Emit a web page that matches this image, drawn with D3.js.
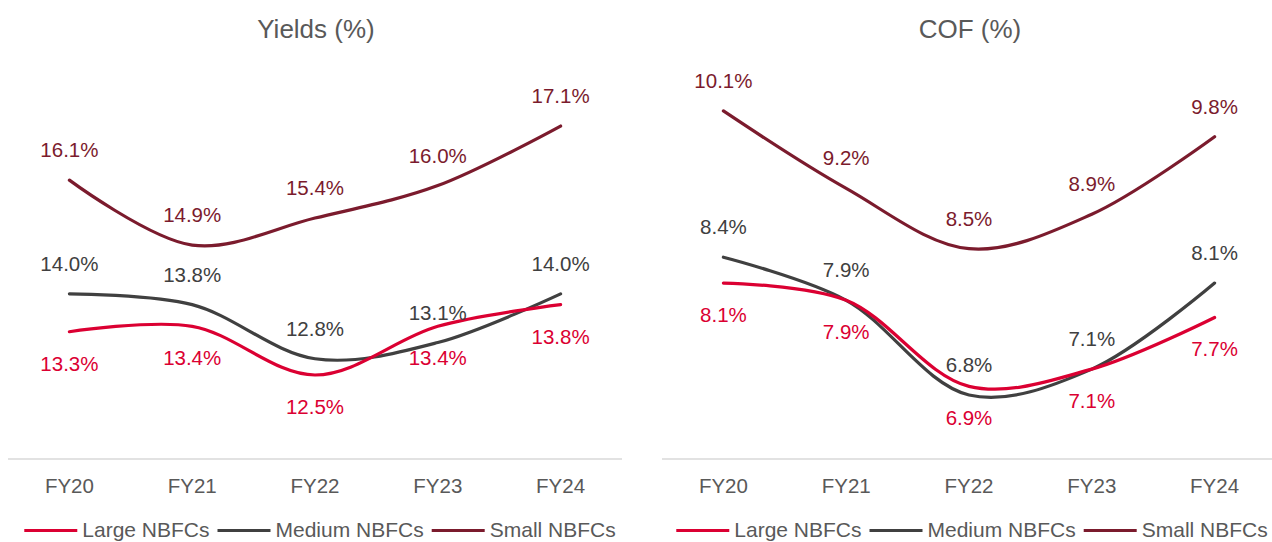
<!DOCTYPE html>
<html>
<head>
<meta charset="utf-8">
<script src="https://cdn.jsdelivr.net/npm/d3@7"></script>
<style>
  html, body { margin: 0; padding: 0; background: #fff; }
  svg { display: block; font-family: "Liberation Sans", Arial, sans-serif; }
</style>
</head>
<body>
<svg id="chart" width="1272" height="542"></svg>
<script>
// ---- data ----
const categories = ["FY20", "FY21", "FY22", "FY23", "FY24"];
const seriesNames = ["Large NBFCs", "Medium NBFCs", "Small NBFCs"];

const yieldsLarge  = [13.3, 13.4, 12.5, 13.4, 13.8];
const yieldsMedium = [14.0, 13.8, 12.8, 13.1, 14.0];
const yieldsSmall  = [16.1, 14.9, 15.4, 16.0, 17.1];

const cofLarge  = [8.1, 7.9, 6.9, 7.1, 7.7];
const cofMedium = [8.4, 7.9, 6.8, 7.1, 8.1];
const cofSmall  = [10.1, 9.2, 8.5, 8.9, 9.8];

const panelTitles = ["Yields (%)", "COF (%)"];
const yieldsDomain = [11, 19];
const cofDomain = [6, 11];

// ---- style ----
const colors = { "Large NBFCs": "#DB0032", "Medium NBFCs": "#404040", "Small NBFCs": "#7B1B2D" };
const labelPos = { "Large NBFCs": "below", "Medium NBFCs": "above", "Small NBFCs": "above" };
const textGray = "#595959";

const svg = d3.select("#chart");

const panels = [
  { title: panelTitles[0], x0: 8, x1: 622, yRange: [456.2, 23.2], domain: yieldsDomain,
    series: [["Large NBFCs", yieldsLarge], ["Medium NBFCs", yieldsMedium], ["Small NBFCs", yieldsSmall]],
    legendCenter: 320 },
  { title: panelTitles[1], x0: 662, x1: 1276, yRange: [463.8, 33.5], domain: cofDomain,
    series: [["Large NBFCs", cofLarge], ["Medium NBFCs", cofMedium], ["Small NBFCs", cofSmall]],
    legendCenter: 972 }
];

const axisY = 459;

panels.forEach(p => {
  const g = svg.append("g");
  const x = d3.scaleBand().domain(categories).range([p.x0, p.x1]);
  const y = d3.scaleLinear().domain(p.domain).range(p.yRange);
  const cx = d => x(d) + x.bandwidth() / 2;

  // title
  g.append("text")
    .attr("x", (p.x0 + p.x1) / 2 + 1)
    .attr("y", 38)
    .attr("text-anchor", "middle")
    .attr("font-size", 26)
    .attr("fill", textGray)
    .text(p.title);

  // x axis
  const xAxis = d3.axisBottom(x).tickSize(0).tickPadding(0);
  const ax = g.append("g").attr("transform", `translate(0,${axisY})`).call(xAxis);
  ax.select(".domain").attr("stroke", "#D9D9D9").attr("stroke-width", 1.5)
    .attr("d", `M${p.x0},0H${p.x1}`);
  ax.selectAll(".tick text")
    .attr("y", 34)
    .attr("dy", null)
    .attr("font-size", 20.5)
    .attr("font-family", '"Liberation Sans", Arial, sans-serif')
    .attr("fill", textGray);

  const line = d3.line()
    .x((d, i) => cx(categories[i]))
    .y(d => y(d))
    .curve(d3.curveCatmullRom.alpha(0.5));

  const order = ["Small NBFCs", "Medium NBFCs", "Large NBFCs"];
  order.forEach(name => {
    const vals = p.series.find(s => s[0] === name)[1];
    g.append("path")
      .datum(vals)
      .attr("d", line)
      .attr("fill", "none")
      .attr("stroke", colors[name])
      .attr("stroke-width", 3.2)
      .attr("stroke-linecap", "round");
  });

  p.series.forEach(([name, vals]) => {
    g.selectAll(null)
      .data(vals)
      .enter()
      .append("text")
      .attr("x", (d, i) => cx(categories[i]))
      .attr("y", d => labelPos[name] === "above" ? y(d) - 23 : y(d) + 39)
      .attr("text-anchor", "middle")
      .attr("font-size", 20.5)
      .attr("fill", colors[name])
      .text(d => d.toFixed(1) + "%");
  });

  // legend
  const lg = g.append("g");
  const lineLen = 53, gapLT = 5, gapItem = 8;
  let cursor = 0;
  seriesNames.forEach(name => {
    const it = lg.append("g");
    it.append("line")
      .attr("x1", cursor).attr("x2", cursor + lineLen)
      .attr("y1", 530.5).attr("y2", 530.5)
      .attr("stroke", colors[name]).attr("stroke-width", 3.2);
    const t = it.append("text")
      .attr("x", cursor + lineLen + gapLT)
      .attr("y", 537)
      .attr("font-size", 21)
      .attr("fill", textGray)
      .text(name);
    cursor += lineLen + gapLT + t.node().getComputedTextLength() + gapItem;
  });
  const total = cursor - gapItem;
  lg.attr("transform", `translate(${p.legendCenter - total / 2},0)`);
});
</script>
</body>
</html>
